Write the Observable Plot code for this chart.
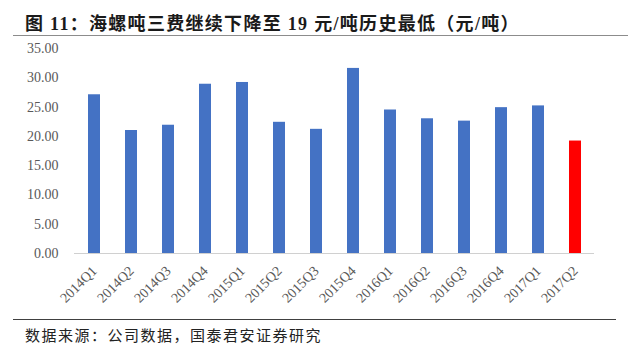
<!DOCTYPE html>
<html><head><meta charset="utf-8">
<script src="https://cdn.jsdelivr.net/npm/d3@7"></script>
<script src="https://cdn.jsdelivr.net/npm/@observablehq/plot@0.6"></script>
<style>
body{margin:0;background:#fff;width:640px;height:351px;overflow:hidden;position:relative}
#tline{position:absolute;left:13px;top:35px;width:615px;height:0;border-top:1.5px solid #8c8c8c}
#title{position:absolute;left:25px;top:14px;line-height:20px;font-family:"Liberation Serif","Noto Sans CJK SC",serif;font-weight:bold;font-size:18px;letter-spacing:1.3px;color:#1a1a1a;white-space:nowrap}
#chart{position:absolute;left:0;top:37px}
#cline{position:absolute;left:13px;top:319px;width:603px;height:0;border-top:1px solid #404040}
#caption{position:absolute;left:25px;top:326px;line-height:20px;font-family:"Liberation Serif","Noto Sans CJK SC",serif;font-size:15px;letter-spacing:1.5px;color:#222;white-space:nowrap}
</style>
</head><body>
<div id="title">图 11：海螺吨三费继续下降至 19 元/吨历史最低（元/吨）</div>
<div id="tline"></div>
<div id="chart"></div>
<div id="cline"></div>
<div id="caption">数据来源：公司数据，国泰君安证券研究</div>
<script>
const quarters = ["2014Q1","2014Q2","2014Q3","2014Q4","2015Q1","2015Q2","2015Q3","2015Q4","2016Q1","2016Q2","2016Q3","2016Q4","2017Q1","2017Q2"];
const costPerTon = [27.1,21.0,21.9,28.9,29.2,22.4,21.2,31.6,24.5,23.0,22.6,24.9,25.2,19.2];
const highlightQuarter = "2017Q2";
const yTicks = [0,5,10,15,20,25,30,35];

const data = quarters.map((q, i) => ({quarter: q, value: costPerTon[i]}));

const chart = Plot.plot({
  width: 640,
  height: 282,
  marginTop: 11,
  marginBottom: 66,
  marginLeft: 74,
  marginRight: 46,
  style: {fontFamily: "'Liberation Serif', serif", fontSize: "14px", color: "#595959", background: "transparent"},
  x: {domain: quarters, paddingInner: 0.68, paddingOuter: 0.34, label: null},
  y: {domain: [0, 35], label: null},
  marks: [
    Plot.barY(data, {x: "quarter", y: "value", fill: d => d.quarter === highlightQuarter ? "#FF0000" : "#4472C4"}),
    Plot.ruleY([0], {stroke: "#d0d0d0", strokeWidth: 1}),
    Plot.axisY({ticks: yTicks, tickFormat: d3.format(".2f"), tickSize: 0, tickPadding: 16, fontSize: 14, fill: "#595959"}),
    Plot.axisX({tickSize: 0, tickPadding: 15, tickRotate: -45, fontSize: 14, fill: "#595959"})
  ]
});
document.getElementById("chart").appendChild(chart);
</script>
</body></html>
